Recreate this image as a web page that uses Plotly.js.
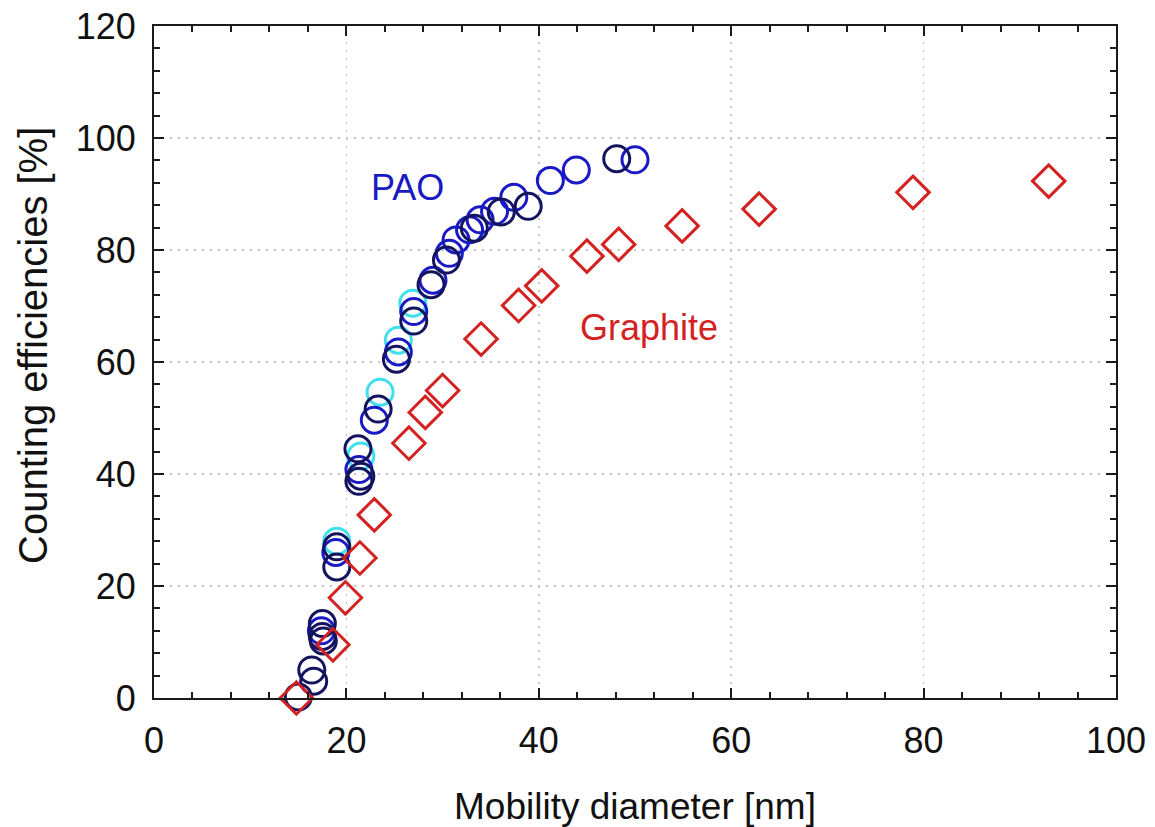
<!DOCTYPE html>
<html>
<head>
<meta charset="utf-8">
<script src="https://cdn.plot.ly/plotly-3.0.1.min.js"></script>
<style>html,body{margin:0;padding:0;background:#fff;}#chart{width:1155px;height:827px;}</style>
</head>
<body>
<div id="chart"></div>
<script>
// PAO – dark navy series
const paoNavyX = [15.0, 16.4, 16.6, 17.5, 17.5, 17.6, 19.0, 19.0, 21.2, 21.5, 21.3, 23.3, 25.2, 27.0, 28.8, 30.4, 33.3, 36.1, 38.9, 48.1];
const paoNavyY = [0.2, 5.0, 3.0, 13.3, 11.0, 10.2, 27.0, 23.4, 44.5, 39.6, 38.7, 51.6, 60.5, 67.3, 73.8, 78.2, 83.9, 86.8, 87.8, 96.3];
// PAO – blue series
const paoBlueX = [17.4, 18.9, 21.3, 22.9, 25.4, 27.0, 29.0, 30.7, 31.4, 32.8, 33.9, 35.4, 37.4, 41.2, 43.9, 50.0];
const paoBlueY = [12.0, 26.0, 40.8, 49.6, 61.8, 69.0, 74.6, 79.4, 81.8, 83.6, 85.4, 86.9, 89.4, 92.4, 94.3, 96.1];
// PAO – cyan series
const paoCyanX = [19.0, 21.5, 23.5, 25.4, 26.9];
const paoCyanY = [28.0, 43.2, 54.6, 63.9, 70.5];
// Graphite
const graphiteX = [14.8, 18.6, 19.9, 21.4, 22.9, 26.5, 28.2, 30.0, 34.0, 37.9, 40.3, 45.0, 48.3, 54.9, 62.9, 78.9, 93.0];
const graphiteY = [0.0, 9.5, 17.9, 25.0, 32.7, 45.5, 51.0, 54.9, 64.1, 70.1, 73.6, 78.9, 81.0, 84.3, 87.3, 90.3, 92.3];

const xTicks = [0, 20, 40, 60, 80, 100];
const yTicks = [0, 20, 40, 60, 80, 100, 120];

const FONT = 'Liberation Sans, Arial, sans-serif';
const circ = (color) => ({symbol: 'circle-open', size: 26, color: color, line: {color: color, width: 3}});

const traces = [
  {x: paoCyanX, y: paoCyanY, type: 'scatter', mode: 'markers', marker: circ('#3fe0ec'), cliponaxis: false, name: 'PAO cyan'},
  {x: paoBlueX, y: paoBlueY, type: 'scatter', mode: 'markers', marker: circ('#1a1ac4'), cliponaxis: false, name: 'PAO blue'},
  {x: paoNavyX, y: paoNavyY, type: 'scatter', mode: 'markers', marker: circ('#14145e'), cliponaxis: false, name: 'PAO navy'},
  {x: graphiteX, y: graphiteY, type: 'scatter', mode: 'markers', cliponaxis: false,
   marker: {symbol: 'diamond-open', size: 25, color: '#d42222', line: {color: '#d42222', width: 3}}, name: 'Graphite'}
];

const axisCommon = {
  showline: true, linecolor: '#1a1a1a', linewidth: 2, mirror: 'allticks',
  ticks: 'inside', ticklen: 10, tickwidth: 2, tickcolor: '#1a1a1a',
  showgrid: true, gridcolor: '#c4c4c4', griddash: '2px,6px', gridwidth: 1.5,
  zeroline: false, tickfont: {family: FONT, size: 36, color: '#111'},
  minor: {dtick: 4, ticks: 'inside', ticklen: 6, tickwidth: 2, tickcolor: '#1a1a1a', showgrid: false}
};

const layout = {
  width: 1155, height: 827,
  margin: {l: 154, r: 39, t: 26, b: 129},
  paper_bgcolor: '#fff', plot_bgcolor: '#fff',
  showlegend: false,
  font: {family: FONT, color: '#111'},
  xaxis: Object.assign({}, axisCommon, {
    range: [0, 100], tickvals: xTicks, ticktext: xTicks.map(String),
    ticklabelstandoff: 10,
    title: {text: 'Mobility diameter [nm]', font: {family: FONT, size: 37, color: '#111'}, standoff: 33}
  }),
  yaxis: Object.assign({}, axisCommon, {
    range: [0, 120], tickvals: yTicks, ticktext: yTicks.map(String),
    ticklabelstandoff: 9
  }),
  annotations: [
    {x: -0.126, y: 0.525, xref: 'paper', yref: 'paper', text: 'Counting efficiencies [%]', textangle: -90,
     showarrow: false, xanchor: 'center', yanchor: 'middle',
     font: {family: FONT, size: 40, color: '#111'}},
    {x: 26.4, y: 91.2, xref: 'x', yref: 'y', text: 'PAO', showarrow: false,
     font: {family: FONT, size: 36, color: '#1a1ac4'}},
    {x: 51.5, y: 66.2, xref: 'x', yref: 'y', text: 'Graphite', showarrow: false,
     font: {family: FONT, size: 36, color: '#d42222'}}
  ]
};

Plotly.newPlot('chart', traces, layout, {displayModeBar: false, staticPlot: true});
</script>
</body>
</html>
